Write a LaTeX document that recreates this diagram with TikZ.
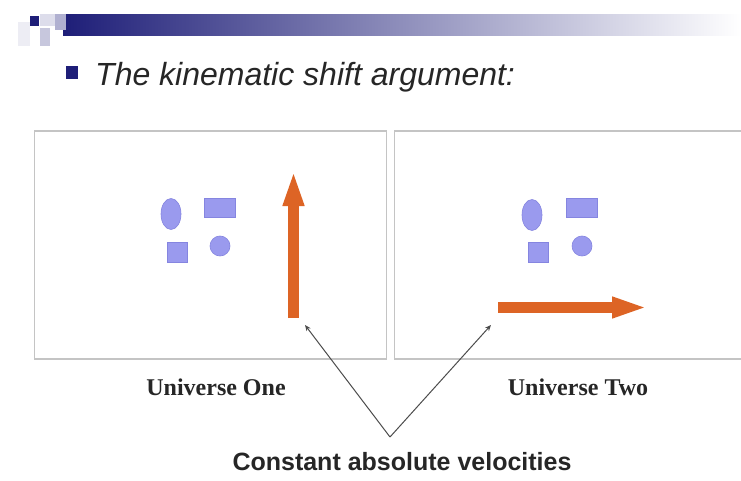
\documentclass[tikz,border=0pt]{standalone}
\usepackage{fontspec}
\setmainfont{Liberation Serif}
\setsansfont{Liberation Sans}
\usetikzlibrary{arrows.meta,shapes.geometric}
\definecolor{navy}{HTML}{1E1E78}
\definecolor{shapefill}{HTML}{9A9AEE}
\definecolor{shapeline}{HTML}{8585E0}
\definecolor{orng}{HTML}{DD6425}
\definecolor{panel}{HTML}{C4C4C4}
\tikzset{
  panelbox/.style={draw=panel,line width=1.3pt},
  obj/.style={fill=shapefill,draw=shapeline,line width=0.6pt,inner sep=0pt},
  vel/.style={orng,line width=11pt,-{Triangle[width=19pt,length=36pt]}},
  pointer/.style={draw=black!70,line width=1pt,-{Stealth[length=6pt,width=5pt]}},
  ulabel/.style={font=\fontsize{24}{28}\selectfont\bfseries,text=black!85},
}
\begin{document}
\begin{tikzpicture}[x=1pt,y=-1pt]
\useasboundingbox (0,0) rectangle (741,481);
\fill[white] (0,0) rectangle (741,481);
% header decoration
\shade[left color=navy,right color=white] (63,15) rectangle (741,36);
\fill[navy!8] (18,22) rectangle (30,46);
\fill[navy!15] (40,14) rectangle (55,26);
\fill[navy!35] (55,14) rectangle (66,30);
\fill[navy!25] (40,28) rectangle (50,46);
\fill[navy] (30,16) rectangle (39,26);
% title
\fill[navy] (66,66) rectangle (78,79);
\node[anchor=base west,inner sep=0pt,font=\sffamily\itshape\fontsize{32}{38}\selectfont,text=black!85] (title) at (95,86) {The kinematic shift argument:};
% panels
\node[panelbox,minimum width=352pt,minimum height=228pt,inner sep=0pt] (p1) at (210.5,245) {};
\node[panelbox,minimum width=352pt,minimum height=228pt,inner sep=0pt] (p2) at (570.5,245) {};
% universe one objects
\node[obj,ellipse,minimum width=20pt,minimum height=31pt] (e1) at (171,214) {};
\node[obj,rectangle,minimum width=31pt,minimum height=19pt] (r1) at (220,208) {};
\node[obj,rectangle,minimum width=20pt,minimum height=20pt] (s1) at (177,252) {};
\node[obj,circle,minimum size=20pt] (c1) at (220,246) {};
% universe two objects
\node[obj,ellipse,minimum width=20pt,minimum height=31pt] (e2) at (532,215) {};
\node[obj,rectangle,minimum width=31pt,minimum height=19pt] (r2) at (582,208) {};
\node[obj,rectangle,minimum width=20pt,minimum height=20pt] (s2) at (538,252) {};
\node[obj,circle,minimum size=20pt] (c2) at (582,246) {};
% velocity arrows
\coordinate (v1s) at (293.5,318);
\coordinate (v1e) at (293.5,170);
\draw[vel] (v1s) -- (v1e);
\coordinate (v2s) at (498,307.5);
\coordinate (v2e) at (648,307.5);
\draw[vel] (v2s) -- (v2e);
% labels
\node[ulabel] (u1) at (216,387) {Universe One};
\node[ulabel] (u2) at (578,387) {Universe Two};
\node[font=\sffamily\bfseries\fontsize{25}{30}\selectfont,text=black!85] (cav) at (402,462) {Constant absolute velocities};
% pointers
\coordinate (apex) at (390,437);
\coordinate (t1) at (305,325);
\coordinate (t2) at (491,325);
\draw[pointer] (apex) -- (t1);
\draw[pointer] (apex) -- (t2);
\end{tikzpicture}
\end{document}
